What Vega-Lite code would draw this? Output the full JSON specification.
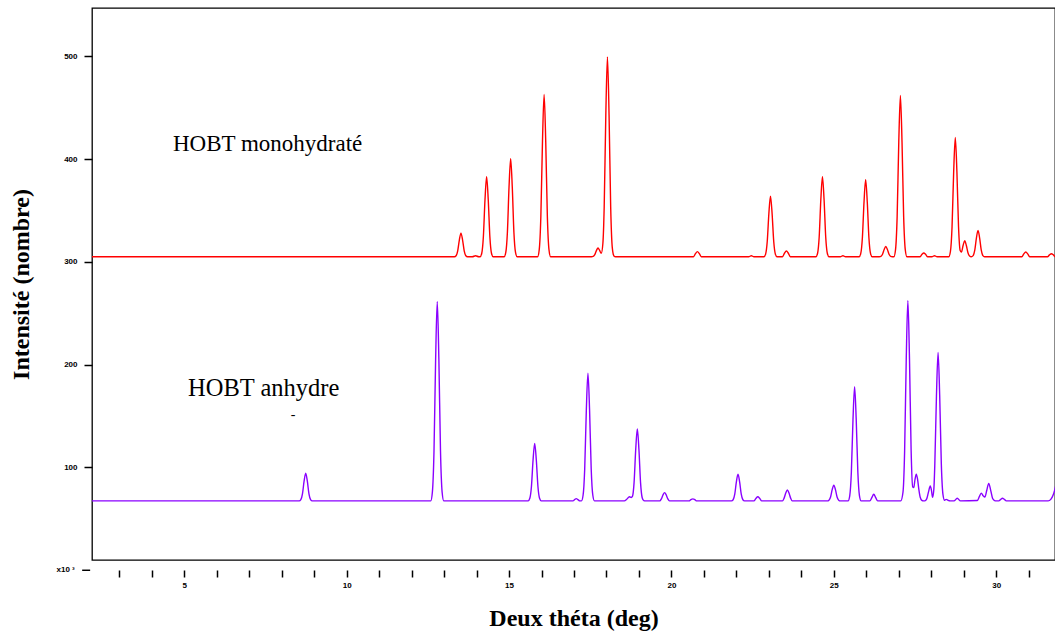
{
"$schema": "https://vega.github.io/schema/vega-lite/v6.json",
"width": 963, "height": 552,
"autosize": {"type": "none"},
"padding": {"left": 92, "top": 8, "right": 0, "bottom": 77},
"background": "white",
"config": {
 "view": {"stroke": "#000", "strokeWidth": 1.3},
 "axis": {"grid": false, "domain": false, "tickColor": "#000", "labelColor": "#000", "labelFont": "Liberation Sans", "labelFontSize": 8, "labelFontWeight": "bold", "titleFont": "Liberation Serif", "titleFontSize": 24, "titleFontWeight": "bold", "titleColor": "#000"}
},
"datasets": {
 "mono": [
  {"t":2.0,"i":305},
  {"t":13.32,"i":305},{"t":13.37,"i":306.0},{"t":13.42,"i":310.8},{"t":13.47,"i":321.3},{"t":13.52,"i":328},{"t":13.57,"i":321.3},{"t":13.62,"i":310.8},{"t":13.67,"i":306.0},{"t":13.72,"i":305},
  {"t":13.87,"i":305},{"t":13.97,"i":306},{"t":14.07,"i":305},
  {"t":14.11,"i":305},{"t":14.16,"i":308.4},{"t":14.21,"i":324.5},{"t":14.26,"i":360.4},{"t":14.31,"i":383},{"t":14.36,"i":360.4},{"t":14.41,"i":324.5},{"t":14.46,"i":308.4},{"t":14.51,"i":305},
  {"t":14.85,"i":305},{"t":14.90,"i":309.2},{"t":14.95,"i":328.9},{"t":15.00,"i":372.8},{"t":15.05,"i":400.5},{"t":15.10,"i":372.8},{"t":15.15,"i":328.9},{"t":15.20,"i":309.2},{"t":15.25,"i":305},
  {"t":15.88,"i":305},{"t":15.93,"i":312},{"t":15.98,"i":344.5},{"t":16.03,"i":417.2},{"t":16.08,"i":463},{"t":16.13,"i":417.2},{"t":16.18,"i":344.5},{"t":16.23,"i":312},{"t":16.28,"i":305},
  {"t":17.54,"i":305},{"t":17.59,"i":305.4},{"t":17.64,"i":307.1},{"t":17.69,"i":311.0},{"t":17.74,"i":313.5},{"t":17.79,"i":311.1},{"t":17.84,"i":308.4},{"t":17.89,"i":318.2},{"t":17.93,"i":353.4},{"t":17.98,"i":443},{"t":18.03,"i":499.5},{"t":18.08,"i":443},{"t":18.13,"i":353.4},{"t":18.18,"i":313.6},{"t":18.23,"i":305.8},{"t":18.28,"i":305},
  {"t":20.68,"i":305},{"t":20.74,"i":308},{"t":20.80,"i":310},{"t":20.86,"i":308},{"t":20.92,"i":305},
  {"t":22.38,"i":305},{"t":22.46,"i":306},{"t":22.54,"i":305},
  {"t":22.85,"i":305},{"t":22.90,"i":307.6},{"t":22.95,"i":319.8},{"t":23.00,"i":346.9},{"t":23.05,"i":364},{"t":23.10,"i":346.9},{"t":23.15,"i":319.8},{"t":23.20,"i":307.6},{"t":23.25,"i":305},
  {"t":23.42,"i":305},{"t":23.48,"i":308.4},{"t":23.54,"i":310.6},{"t":23.60,"i":308.4},{"t":23.66,"i":305},
  {"t":24.45,"i":305},{"t":24.50,"i":308.4},{"t":24.55,"i":324.5},{"t":24.60,"i":360.4},{"t":24.65,"i":383},{"t":24.70,"i":360.4},{"t":24.75,"i":324.5},{"t":24.80,"i":308.4},{"t":24.85,"i":305},
  {"t":25.20,"i":305},{"t":25.28,"i":306},{"t":25.36,"i":305},
  {"t":25.78,"i":305},{"t":25.83,"i":308.3},{"t":25.88,"i":323.8},{"t":25.93,"i":358.3},{"t":25.98,"i":380},{"t":26.03,"i":358.3},{"t":26.08,"i":323.8},{"t":26.13,"i":308.3},{"t":26.18,"i":305},
  {"t":26.40,"i":305},{"t":26.45,"i":305.4},{"t":26.50,"i":307.5},{"t":26.55,"i":312.1},{"t":26.60,"i":315},{"t":26.65,"i":312.1},{"t":26.70,"i":307.5},{"t":26.75,"i":305.4},{"t":26.80,"i":305},
  {"t":26.85,"i":305},{"t":26.90,"i":311.9},{"t":26.95,"i":344.3},{"t":27.00,"i":416.5},{"t":27.05,"i":462},{"t":27.10,"i":416.5},{"t":27.15,"i":344.3},{"t":27.20,"i":311.9},{"t":27.25,"i":305},
  {"t":27.65,"i":305},{"t":27.71,"i":307.2},{"t":27.77,"i":308.7},{"t":27.83,"i":307.2},{"t":27.89,"i":305},
  {"t":28.02,"i":305},{"t":28.10,"i":306},{"t":28.18,"i":305},
  {"t":28.54,"i":305},{"t":28.59,"i":310.1},{"t":28.64,"i":334},{"t":28.69,"i":387.4},{"t":28.74,"i":421},{"t":28.79,"i":387.4},{"t":28.84,"i":334.1},{"t":28.89,"i":311.1},{"t":28.93,"i":309.7},{"t":28.98,"i":316},{"t":29.03,"i":320.6},{"t":29.08,"i":316},{"t":29.13,"i":308.9},{"t":29.18,"i":305.7},{"t":29.23,"i":305},
  {"t":29.29,"i":306.1},{"t":29.34,"i":311.4},{"t":29.39,"i":323.2},{"t":29.44,"i":330.7},{"t":29.49,"i":323.2},{"t":29.54,"i":311.4},{"t":29.59,"i":306.1},{"t":29.64,"i":305},
  {"t":30.79,"i":305},{"t":30.85,"i":307.8},{"t":30.91,"i":309.6},{"t":30.97,"i":307.8},{"t":31.03,"i":305},
  {"t":31.58,"i":305},{"t":31.64,"i":306.8},{"t":31.70,"i":308},{"t":31.76,"i":306.8},{"t":31.82,"i":305},
  {"t":32.0,"i":305}
 ],
 "anhy": [
  {"t":2.0,"i":67.5},
  {"t":8.54,"i":67.5},{"t":8.59,"i":68.7},{"t":8.64,"i":74.3},{"t":8.69,"i":86.7},{"t":8.74,"i":94.5},{"t":8.79,"i":86.7},{"t":8.84,"i":74.3},{"t":8.89,"i":68.7},{"t":8.94,"i":67.5},
  {"t":12.59,"i":67.5},{"t":12.64,"i":76},{"t":12.69,"i":116},{"t":12.74,"i":205.2},{"t":12.79,"i":261.5},{"t":12.84,"i":205.2},{"t":12.89,"i":116},{"t":12.94,"i":76},{"t":12.99,"i":67.5},
  {"t":15.59,"i":67.5},{"t":15.64,"i":70},{"t":15.69,"i":81.5},{"t":15.74,"i":107.3},{"t":15.79,"i":123.5},{"t":15.84,"i":107.3},{"t":15.89,"i":81.5},{"t":15.94,"i":70},{"t":15.99,"i":67.5},
  {"t":16.97,"i":67.5},{"t":17.02,"i":68.8},{"t":17.07,"i":69.7},{"t":17.12,"i":68.8},{"t":17.18,"i":67.5},
  {"t":17.23,"i":67.5},{"t":17.28,"i":73},{"t":17.33,"i":98.6},{"t":17.38,"i":155.8},{"t":17.43,"i":191.8},{"t":17.48,"i":155.8},{"t":17.53,"i":98.6},{"t":17.58,"i":73},{"t":17.63,"i":67.5},
  {"t":18.55,"i":67.5},{"t":18.61,"i":68.6},{"t":18.66,"i":70.3},{"t":18.71,"i":71.5},{"t":18.76,"i":70.8},{"t":18.80,"i":71.9},{"t":18.85,"i":85.3},{"t":18.90,"i":117.2},{"t":18.95,"i":137.5},{"t":19.00,"i":117.2},{"t":19.05,"i":85},{"t":19.10,"i":70.6},{"t":19.15,"i":67.8},{"t":19.20,"i":67.5},
  {"t":19.64,"i":67.5},{"t":19.69,"i":69.5},{"t":19.74,"i":73.2},{"t":19.79,"i":75.5},{"t":19.84,"i":73.2},{"t":19.89,"i":69.5},{"t":19.94,"i":67.5},
  {"t":20.54,"i":67.5},{"t":20.60,"i":68.7},{"t":20.66,"i":69.5},{"t":20.72,"i":68.7},{"t":20.78,"i":67.5},
  {"t":21.85,"i":67.5},{"t":21.90,"i":68.6},{"t":21.95,"i":74},{"t":22.00,"i":86},{"t":22.05,"i":93.5},{"t":22.10,"i":86},{"t":22.15,"i":74},{"t":22.20,"i":68.6},{"t":22.25,"i":67.5},
  {"t":22.54,"i":67.5},{"t":22.60,"i":69.9},{"t":22.66,"i":71.5},{"t":22.72,"i":69.9},{"t":22.78,"i":67.5},
  {"t":23.42,"i":67.5},{"t":23.47,"i":70.2},{"t":23.52,"i":75.1},{"t":23.57,"i":78.2},{"t":23.62,"i":75.1},{"t":23.67,"i":70.2},{"t":23.72,"i":67.5},
  {"t":24.80,"i":67.5},{"t":24.85,"i":68.2},{"t":24.90,"i":71.3},{"t":24.95,"i":78.4},{"t":25.00,"i":82.8},{"t":25.05,"i":78.4},{"t":25.10,"i":71.3},{"t":25.15,"i":68.2},{"t":25.20,"i":67.5},
  {"t":25.44,"i":67.5},{"t":25.49,"i":72.4},{"t":25.54,"i":95.3},{"t":25.59,"i":146.3},{"t":25.64,"i":178.5},{"t":25.69,"i":146.3},{"t":25.74,"i":95.3},{"t":25.79,"i":72.4},{"t":25.84,"i":67.5},
  {"t":26.11,"i":67.5},{"t":26.17,"i":70.7},{"t":26.23,"i":74},{"t":26.29,"i":70.7},{"t":26.35,"i":67.5},
  {"t":27.06,"i":67.5},{"t":27.13,"i":76.1},{"t":27.18,"i":116.1},{"t":27.23,"i":205.4},{"t":27.28,"i":262.5},{"t":27.33,"i":205.5},{"t":27.38,"i":116.8},{"t":27.43,"i":80.9},{"t":27.46,"i":80.4},{"t":27.50,"i":88.5},{"t":27.54,"i":93.5},{"t":27.58,"i":88.3},{"t":27.62,"i":78.2},{"t":27.66,"i":71},{"t":27.71,"i":68},{"t":27.76,"i":67.5},
  {"t":27.80,"i":67.5},{"t":27.86,"i":69.5},{"t":27.91,"i":75.5},{"t":27.97,"i":82},{"t":28.01,"i":77},{"t":28.04,"i":71},{"t":28.08,"i":79},{"t":28.11,"i":103.5},{"t":28.16,"i":169.6},{"t":28.21,"i":211.9},{"t":28.26,"i":169.6},{"t":28.31,"i":103.5},{"t":28.36,"i":73.9},{"t":28.41,"i":68.1},
  {"t":28.46,"i":69},{"t":28.52,"i":68},{"t":28.58,"i":67.5},
  {"t":28.70,"i":67.5},{"t":28.80,"i":70},{"t":28.90,"i":67.5},
  {"t":29.42,"i":67.9},{"t":29.48,"i":71.6},{"t":29.54,"i":75.1},{"t":29.60,"i":72.4},{"t":29.65,"i":71.2},{"t":29.71,"i":77.9},{"t":29.77,"i":84.5},{"t":29.83,"i":77.8},{"t":29.89,"i":69.8},{"t":29.95,"i":67.8},{"t":30.00,"i":67.5},
  {"t":30.08,"i":67.5},{"t":30.14,"i":69},{"t":30.19,"i":70},{"t":30.25,"i":69},{"t":30.31,"i":67.5},
  {"t":31.60,"i":67.5},{"t":31.68,"i":69},{"t":31.75,"i":73},{"t":31.80,"i":78},{"t":31.85,"i":85},{"t":31.90,"i":94},{"t":31.95,"i":105}
 ],
 "label1": [
  {"t":4.654,"i":407.6,"label":"HOBT monohydraté"}
 ],
 "label2": [
  {"t":5.116,"i":169.7,"label":"HOBT anhydre"}
 ],
 "marks": [
  {"t":8.35,"i":151,"label":"-"}
 ],
 "unit": [
  {"t":1.63,"t2":1.857,"t3":2.103,"i":0,"label":"x10  ³"}
 ]
},
"encoding": {
 "x": {"field": "t", "type": "quantitative",
  "scale": {"domain": [2.16, 31.81], "nice": false, "zero": false},
  "axis": {"title": "Deux théta (deg)", "values": [3,4,5,6,7,8,9,10,11,12,13,14,15,16,17,18,19,20,21,22,23,24,25,26,27,28,29,30,31],
   "labelExpr": "datum.value % 5 === 0 ? datum.label : ''", "offset": 10, "tickSize": 7, "tickWidth": 1.5, "labelPadding": 4,
   "titleY": 55, "titleBaseline": "alphabetic", "labelFlush": false, "labelOverlap": false}},
 "y": {"field": "i", "type": "quantitative",
  "scale": {"domain": [10, 547], "nice": false, "zero": false},
  "axis": {"title": "Intensité (nombre)", "values": [100,200,300,400,500],
   "tickSize": 8, "tickWidth": 1.5, "labelPadding": 7,
   "titleX": -64, "titleY": 276, "titleAngle": -90, "titleAlign": "center", "titleBaseline": "alphabetic", "labelFlush": false, "labelOverlap": false}}
},
"layer": [
 {"data": {"name": "mono"}, "mark": {"type": "line", "color": "#ff0000", "strokeWidth": 1.4, "interpolate": "monotone", "clip": true}, "encoding": {}},
 {"data": {"name": "anhy"}, "mark": {"type": "line", "color": "#8a00ff", "strokeWidth": 1.4, "interpolate": "monotone", "clip": true}, "encoding": {}},
 {"data": {"name": "label1"}, "mark": {"type": "text", "font": "Liberation Serif", "fontSize": 23, "align": "left", "baseline": "alphabetic", "color": "#000"}, "encoding": {"text": {"field": "label"}}},
 {"data": {"name": "label2"}, "mark": {"type": "text", "font": "Liberation Serif", "fontSize": 24.5, "align": "left", "baseline": "alphabetic", "color": "#000"}, "encoding": {"text": {"field": "label"}}},
 {"data": {"name": "marks"}, "mark": {"type": "text", "font": "Liberation Serif", "fontSize": 14, "align": "center", "baseline": "middle", "color": "#000"}, "encoding": {"text": {"field": "label"}}},
 {"data": {"name": "unit"}, "mark": {"type": "text", "font": "Liberation Sans", "fontSize": 8, "fontWeight": "bold", "align": "right", "baseline": "middle", "color": "#000", "clip": false}, "encoding": {"text": {"field": "label"}}},
 {"data": {"name": "unit"}, "mark": {"type": "rule", "color": "#000", "strokeWidth": 1.5, "clip": false}, "encoding": {"x": {"field": "t2", "type": "quantitative"}, "x2": {"field": "t3"}}}
]
}
